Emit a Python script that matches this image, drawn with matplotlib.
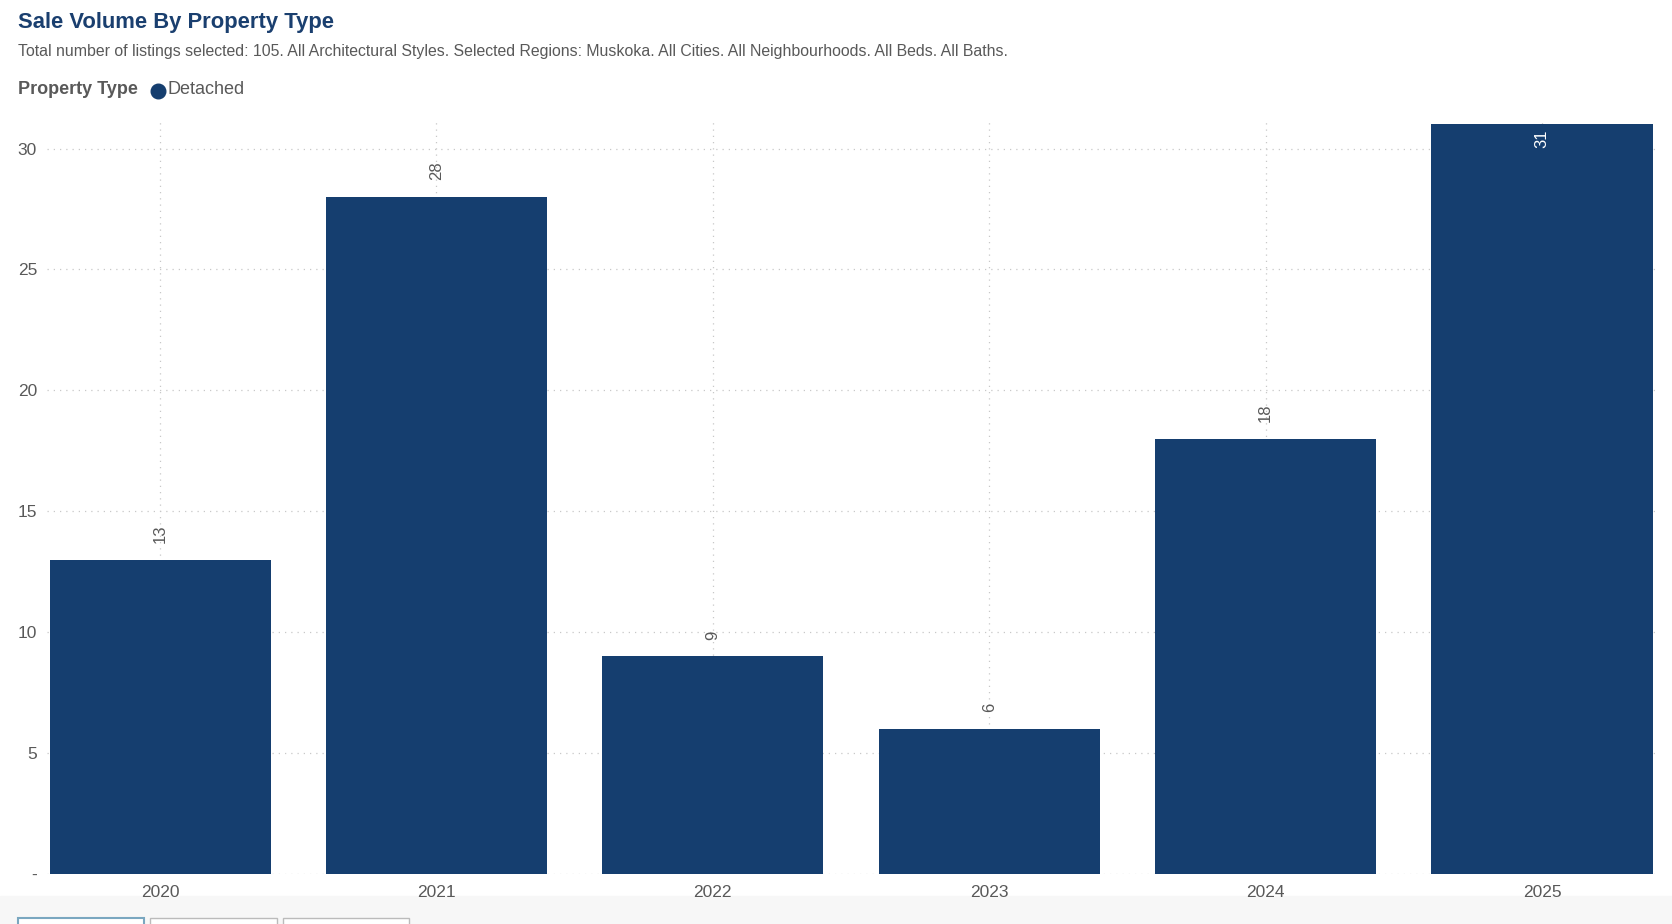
import matplotlib.pyplot as plt
from matplotlib.patches import Rectangle

years = ["2020", "2021", "2022", "2023", "2024", "2025"]
sales = [13, 28, 9, 6, 18, 31]
yticks = [0, 5, 10, 15, 20, 25, 30]
ytick_labels = ["-", "5", "10", "15", "20", "25", "30"]

navy = "#153e6f"
grey = "#595959"

plt.rcParams["font.family"] = ["Liberation Sans", "DejaVu Sans"]

fig = plt.figure(figsize=(16.72, 9.24), dpi=100)
ax = fig.add_axes([0.028, 0.054, 0.962, 0.814])

x = range(len(years))
ax.bar(x, sales, width=0.8, color=navy, zorder=3)
ax.set_xlim(-0.41, 5.41)
ax.set_ylim(0, 31.1)

# value labels, rotated, above the bar (inside if no room)
for i, v in enumerate(sales):
    if v + 2 > 31.1:
        ax.text(i, v - 0.2, str(v), rotation=90, ha="center", va="top",
                color="white", fontsize=12, zorder=4)
    else:
        ax.text(i, v + 0.7, str(v), rotation=90, ha="center", va="bottom",
                color=grey, fontsize=12, zorder=4)

ax.set_xticks(list(x))
ax.set_xticklabels(years)
ax.set_yticks(yticks)
ax.set_yticklabels(ytick_labels)
ax.tick_params(axis="both", length=0, labelsize=12.5, colors=grey)
ax.tick_params(axis="x", pad=8)
ax.tick_params(axis="y", pad=7)
ax.grid(True, linestyle=(0, (1, 4)), color="#c8c8c8", linewidth=0.9, zorder=0)
for s in ax.spines.values():
    s.set_visible(False)

fig.text(0.011, 0.976, "Sale Volume By Property Type", fontsize=15.8,
         fontweight="bold", color="#1a3f6f", va="center")
fig.text(0.011, 0.944,
         "Total number of listings selected: 105. All Architectural Styles. "
         "Selected Regions: Muskoka. All Cities. All Neighbourhoods. All Beds. All Baths.",
         fontsize=11.4, color=grey, va="center")
fig.text(0.011, 0.903, "Property Type", fontsize=13, fontweight="bold",
         color=grey, va="center")
fig.lines.append(plt.Line2D([0.0945], [0.902], marker="o", markersize=10.5,
                            color=navy, transform=fig.transFigure))
fig.text(0.1, 0.903, "Detached", fontsize=13, color=grey, va="center")

# tab strip at the bottom
fig.patches.append(Rectangle((0, 0), 1, 0.03, transform=fig.transFigure,
                             color="#f7f7f7", zorder=-1))
for k, x0 in enumerate([0.0105, 0.090, 0.169]):
    fig.patches.append(Rectangle((x0, -0.01), 0.0754, 0.016,
                                 transform=fig.transFigure, facecolor="white",
                                 edgecolor="#7aa7c0" if k == 0 else "#bbbbbb",
                                 linewidth=1.5 if k == 0 else 1))

fig.savefig("out.png", dpi=100)
